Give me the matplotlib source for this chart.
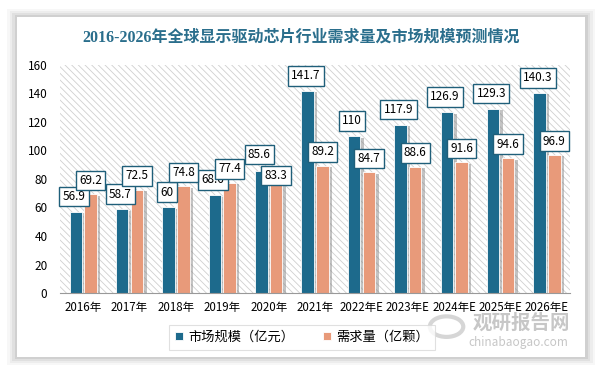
import matplotlib
matplotlib.use('Agg')
import matplotlib.pyplot as plt
from matplotlib.patches import Rectangle, Circle
import matplotlib.patheffects as pe
import numpy as np

plt.rcParams['font.family'] = ['Noto Sans CJK SC', 'DejaVu Sans']
plt.rcParams['hatch.linewidth'] = 0.6

# data
years = ['2016年', '2017年', '2018年', '2019年', '2020年', '2021年',
         '2022年E', '2023年E', '2024年E', '2025年E', '2026年E']
market = [56.9, 58.7, 60, 68.6, 85.6, 141.7, 110, 117.9, 126.9, 129.3, 140.3]
demand = [69.2, 72.5, 74.8, 77.4, 83.3, 89.2, 84.7, 88.6, 91.6, 94.6, 96.9]
labels = ['市场规模（亿元）', '需求量（亿颗）']

BLUE = '#1D6A8C'
SALMON = '#E89A7A'
TEAL = '#2A6E8C'

fig = plt.figure(figsize=(5.97, 3.67), dpi=100)
fig.patch.set_facecolor('white')

# card with soft shadow
x0, y0, cw, ch = 0.0285, 0.027, 0.952, 0.927
for i, a in enumerate([0.03, 0.04, 0.05, 0.07]):
    d = (4 - i) * 0.004
    fig.patches.append(Rectangle((x0 - d, y0 - d * 1.3), cw + 2 * d, ch + 2 * d * 1.3,
                                 transform=fig.transFigure, facecolor='black',
                                 alpha=a, edgecolor='none', zorder=-10))
fig.patches.append(Rectangle((x0, y0), cw, ch, transform=fig.transFigure,
                             facecolor='white', edgecolor='none', zorder=-9))

fig.text(0.505, 0.898, '2016-2026年全球显示驱动芯片行业需求量及市场规模预测情况',
         ha='center', va='center', fontsize=11.5, fontweight='bold', color=TEAL,
         family=['Liberation Serif', 'Noto Sans CJK SC'])

ax = fig.add_axes([0.1005, 0.2016, 0.8545, 0.6214])
ax.set_facecolor('none')
ax.add_patch(Rectangle((0, 0), 1, 1, transform=ax.transAxes, facecolor='white',
                       edgecolor='#cfcfcf', hatch='\\\\\\\\\\', linewidth=0, zorder=0))

x = np.arange(len(years))
w = 0.27
shadow = [pe.SimplePatchShadow(offset=(2.5, -1), shadow_rgbFace='#888888', alpha=0.5), pe.Normal()]
b1 = ax.bar(x - 0.16, market, w, color=BLUE, label=labels[0], zorder=2,
            edgecolor='white', linewidth=0.6)
b2 = ax.bar(x + 0.16, demand, w, color=SALMON, label=labels[1], zorder=2,
            edgecolor='white', linewidth=0.6)
for b in list(b1) + list(b2):
    b.set_path_effects(shadow)

# label offsets in points (2020 demand label sits lower to dodge its neighbour)
m_dy = [11] * len(years)
d_dy = [10] * len(years)
m_dy[4] = 12
d_dy[4] = -1
box = dict(boxstyle='square,pad=0.28', facecolor='white', edgecolor='#1F5F7A', linewidth=1)
for xi, v, dy in zip(x, market, m_dy):
    ax.annotate(f'{v:g}', (xi - 0.2, v), xytext=(0, dy), textcoords='offset points',
                ha='center', va='center', fontsize=8.5, bbox=box, zorder=4)
for xi, v, dy in zip(x, demand, d_dy):
    ax.annotate(f'{v:g}', (xi + 0.16, v), xytext=(0, dy), textcoords='offset points',
                ha='center', va='center', fontsize=8.5, bbox=box, zorder=5)

ax.set_xlim(-0.5, len(years) - 0.5)
ax.set_ylim(0, 160)
ax.set_yticks(range(0, 161, 20))
ax.set_xticks(x)
ax.set_xticklabels(years, fontsize=8.3)
ax.tick_params(axis='y', labelsize=8.5, length=0, pad=9)
ax.tick_params(axis='x', length=0, pad=6)
for s in ['top', 'right', 'left']:
    ax.spines[s].set_visible(False)
ax.spines['bottom'].set_color('#999999')

leg = fig.legend(handles=[b1, b2], labels=labels, loc='center', bbox_to_anchor=(0.506, 0.081),
                 ncol=2, fontsize=9.5, frameon=True, fancybox=False, handlelength=0.6,
                 handleheight=0.6, columnspacing=2.2, handletextpad=0.4, borderpad=0.45,
                 borderaxespad=0)
leg.get_frame().set_edgecolor('#d9d9d9')
leg.get_frame().set_linewidth(0.8)
for h in leg.legend_handles:
    h.set_path_effects([])

# watermark
fig.patches.append(Circle((0.748, 0.11), 0.028, transform=fig.transFigure, facecolor='none',
                          edgecolor='#cccccc', linewidth=3, alpha=0.8, zorder=3))
fig.text(0.873, 0.12, '观研报告网', ha='center', va='center', fontsize=14,
         fontweight='bold', color='#bdbdbd', alpha=0.85)
fig.text(0.869, 0.068, 'chinabaogao.com', ha='center', va='center', fontsize=8.5,
         color='#c0c0c0', alpha=0.9)

fig.savefig('out.png', dpi=100, facecolor=fig.get_facecolor())
